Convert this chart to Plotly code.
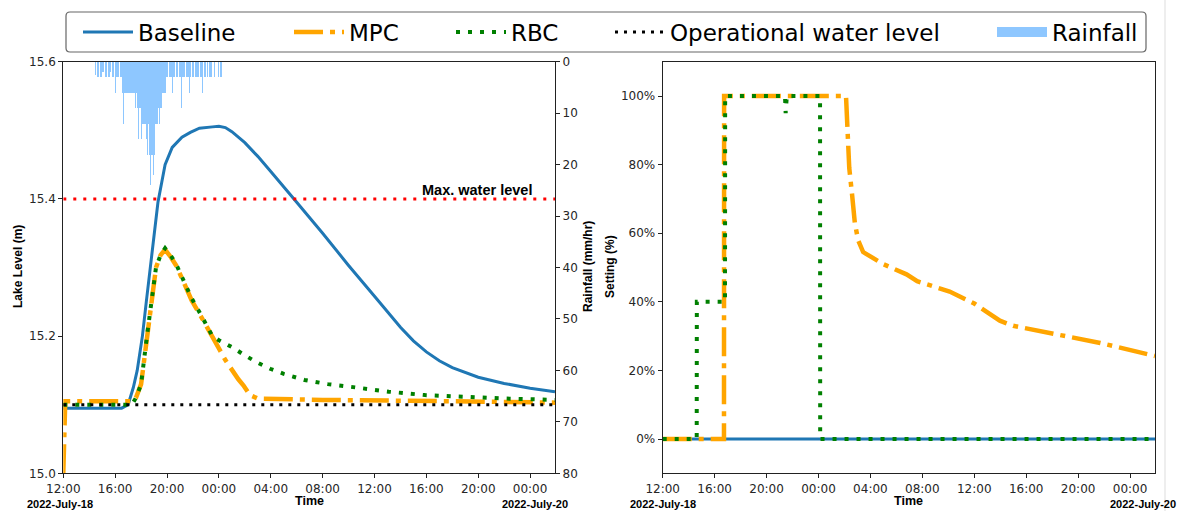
import pandas as pd
import plotly.graph_objects as go

W, H = 1181, 511
T0 = pd.Timestamp("2022-07-18 12:00")
T_END_H = 37.92

# ---------------- data (hours after 2022-07-18 12:00) ----------------
baseline_hours = [0, 4.5, 5.0, 5.4, 5.7, 6.1, 6.4, 6.7, 7.0, 7.3, 7.6, 7.85, 8.4, 9.15, 9.8, 10.2, 10.5,
                  11.5, 12.0, 12.5, 13.0, 14.0, 15.0, 16.0, 17.0, 18.0, 20.0, 22.0, 24.0, 26.0, 27.0,
                  28.0, 29.0, 30.0, 32.0, 34.0, 36.0, 37.92]
baseline_level = [15.095, 15.095, 15.10, 15.125, 15.15, 15.20, 15.25, 15.30, 15.35, 15.395, 15.425,
                  15.45, 15.475, 15.49, 15.497, 15.500, 15.503, 15.505, 15.506, 15.504, 15.498, 15.482,
                  15.462, 15.44, 15.418, 15.395, 15.35, 15.303, 15.258, 15.213, 15.193, 15.177, 15.164,
                  15.154, 15.14, 15.131, 15.124, 15.119]

mpc_hours = [0, 0.15, 5.3, 5.6, 6.0, 6.45, 6.8, 7.15, 7.5, 7.85, 8.3, 8.7, 9.3, 9.9, 10.7, 11.5, 12.0,
             12.5, 13.0, 13.5, 13.9, 14.4, 15.0, 20.0, 30.0, 37.92]
mpc_level = [15.0, 15.105, 15.105, 15.11, 15.13, 15.2, 15.255, 15.3, 15.318, 15.326, 15.315, 15.303,
             15.278, 15.252, 15.226, 15.197, 15.182, 15.165, 15.15, 15.137, 15.128, 15.114, 15.109,
             15.107, 15.105, 15.103]

rbc_hours = [0, 5.3, 5.6, 6.0, 6.45, 6.8, 7.15, 7.5, 7.85, 8.3, 8.7, 9.3, 9.9, 10.7, 11.5, 12.0, 13.0,
             14.0, 15.0, 16.0, 17.0, 18.6, 20.4, 22.2, 25.1, 27.9, 31.0, 34.0, 37.92]
rbc_level = [15.10, 15.10, 15.11, 15.13, 15.2, 15.255, 15.3, 15.318, 15.328, 15.317, 15.305, 15.28,
             15.255, 15.228, 15.2, 15.194, 15.184, 15.172, 15.161, 15.152, 15.145, 15.136, 15.13,
             15.126, 15.119, 15.114, 15.111, 15.109, 15.107]

operational_level = 15.1
max_level = 15.4

# rainfall, 5-minute values (mm/hr) starting 2022-07-18 14:30
rain_start = "2022-07-18 14:30"
rain_mm_hr = [
    2.5, 0, 3, 3, 0, 3,                          # 14:30-14:55
    3, 2, 0, 3, 3, 0, 3, 3, 2, 0, 3, 3,          # 15:00
    0, 6, 3, 3, 0, 3, 3, 6, 12, 6, 6, 6,         # 16:00
    6, 6, 6, 6, 6, 6, 6, 9, 6, 9, 15, 9,         # 17:00
    9, 15, 12, 12, 12, 15, 18, 12, 18, 24, 18, 18,  # 18:00
    22, 18, 12, 12, 9, 12, 9, 9, 6, 6, 6, 6,     # 19:00
    3, 3, 0, 3, 3, 6, 3, 3, 0, 3, 3, 0,          # 20:00
    3, 3, 9, 3, 3, 0, 3, 3, 3, 6, 3, 0,          # 21:00
    3, 3, 0, 3, 3, 3, 0, 3, 3, 6, 0, 3,          # 22:00
    3, 0, 3, 0, 3, 3, 0, 0, 3, 0, 0, 0,          # 23:00
    3, 0, 3, 3,                                  # 00:00-00:15
]

# gate setting (%) for right panel
set_baseline_hours = [0, 37.92]
set_baseline = [0, 0]
set_mpc_hours = [0, 4.72, 4.73, 14.12, 14.25, 14.37, 14.58, 14.8, 15.05, 15.44, 16.98, 18.78, 19.6,
                 22.1, 24.0, 25.2, 25.97, 27.0, 29.8, 33.7, 37.92]
set_mpc = [0, 0, 100, 100, 89, 79, 71.5, 63, 58, 54.5, 51, 48, 46, 43, 39.5, 36.5, 34.5, 33, 31, 28, 24.2]
set_rbc_hours = [0, 2.62, 2.63, 4.80, 4.81, 9.42, 9.47, 9.52, 9.56, 12.12, 12.13, 37.92]
set_rbc = [0, 0, 40, 40, 100, 100, 95, 99, 100, 100, 0, 0]

tick_hours = [0, 4, 8, 12, 16, 20, 24, 28, 32, 36]
level_ticks = [15.0, 15.2, 15.4, 15.6]
rain_ticks = [0, 10, 20, 30, 40, 50, 60, 70, 80]
setting_ticks = [0, 20, 40, 60, 80, 100]


def t(hours):
    return [T0 + pd.Timedelta(hours=h) for h in hours]


rain_times = pd.date_range(rain_start, periods=len(rain_mm_hr), freq="5min")

BLUE, ORANGE, GREEN = "#1f77b4", "#FFA500", "#008000"
RAIN = "rgba(30,144,255,0.5)"


def px(x):
    return x / W


def py(y):
    return 1 - y / H


fig = go.Figure()

# left panel
fig.add_trace(go.Scatter(x=t(baseline_hours), y=baseline_level, mode="lines", name="Baseline",
                         line=dict(color=BLUE, width=3), xaxis="x", yaxis="y", legend="legend"))
fig.add_trace(go.Scatter(x=t(mpc_hours), y=mpc_level, mode="lines", name="MPC",
                         line=dict(color=ORANGE, width=4.5, dash="29px,7px,5px,7px"),
                         xaxis="x", yaxis="y", legend="legend2"))
fig.add_trace(go.Scatter(x=t(rbc_hours), y=rbc_level, mode="lines", name="RBC",
                         line=dict(color=GREEN, width=4, dash="4px,8px"),
                         xaxis="x", yaxis="y", legend="legend3"))
fig.add_trace(go.Scatter(x=t([0, T_END_H]), y=[operational_level] * 2, mode="lines",
                         name="Operational water level",
                         line=dict(color="black", width=3, dash="3px,6px"),
                         xaxis="x", yaxis="y", legend="legend4"))
fig.add_trace(go.Scatter(x=t([0, T_END_H]), y=[max_level] * 2, mode="lines", name="Max. water level",
                         line=dict(color="#FF0000", width=3, dash="3px,7px"),
                         xaxis="x", yaxis="y", showlegend=False))
fig.add_trace(go.Bar(x=rain_times, y=rain_mm_hr, name="Rainfall", width=300000,
                     marker=dict(color=RAIN, line=dict(width=0)),
                     xaxis="x", yaxis="y2", showlegend=False, legendgroup="rain"))
# legend swatch for the rainfall bars (wide patch like the reference)
fig.add_trace(go.Scatter(x=[None], y=[None], mode="lines", name="Rainfall",
                         line=dict(color=RAIN, width=16), xaxis="x", yaxis="y2",
                         legend="legend5", legendgroup="rain"))

# right panel
fig.add_trace(go.Scatter(x=t(set_baseline_hours), y=set_baseline, mode="lines", name="Baseline",
                         line=dict(color=BLUE, width=3), xaxis="x2", yaxis="y3", showlegend=False))
fig.add_trace(go.Scatter(x=t(set_mpc_hours), y=set_mpc, mode="lines", name="MPC",
                         line=dict(color=ORANGE, width=4.5, dash="29px,7px,5px,7px"),
                         xaxis="x2", yaxis="y3", showlegend=False))
fig.add_trace(go.Scatter(x=t(set_rbc_hours), y=set_rbc, mode="lines", name="RBC",
                         line=dict(color=GREEN, width=4, dash="4px,8px"),
                         xaxis="x2", yaxis="y3", showlegend=False))

TICKFONT = dict(family="DejaVu Sans", size=12, color="#262626")
axis_common = dict(showline=True, linecolor="#222", linewidth=1.2, ticks="outside", ticklen=4,
                   tickwidth=1, tickcolor="#222", showgrid=False, zeroline=False, tickfont=TICKFONT,
                   automargin=False)
xr = [T0, T0 + pd.Timedelta(hours=T_END_H)]
xt = t(tick_hours)
xtext = [d.strftime("%H:%M") for d in xt]

ydom = [py(473.3), py(61.7)]
fig.update_layout(
    width=W, height=H, margin=dict(l=0, r=0, t=0, b=0, autoexpand=False),
    paper_bgcolor="white", plot_bgcolor="white", bargap=0,
    xaxis=dict(domain=[px(63.3), px(555)], range=xr, tickvals=xt, ticktext=xtext, mirror=True,
               anchor="y", **axis_common),
    yaxis=dict(domain=ydom, range=[15.0, 15.6], tickvals=level_ticks,
               ticktext=[f"{v:.1f}" for v in level_ticks], anchor="x", **axis_common),
    yaxis2=dict(range=[80, 0], tickvals=rain_ticks, ticktext=[str(v) for v in rain_ticks],
                overlaying="y", side="right", anchor="x", **axis_common),
    xaxis2=dict(domain=[px(662.7), px(1155)], range=xr, tickvals=xt, ticktext=xtext, mirror=True,
                anchor="y3", **axis_common),
    yaxis3=dict(domain=ydom, range=[-10, 110], tickvals=setting_ticks,
                ticktext=[f"{v}%" for v in setting_ticks], mirror=True, anchor="x2", **axis_common),
)

LEGFONT = dict(family="DejaVu Sans", size=23, color="black")
leg_y = py(32)
for key, xpix in [("legend", 78), ("legend2", 289), ("legend3", 451), ("legend4", 610), ("legend5", 992)]:
    fig.update_layout({key: dict(x=px(xpix), y=leg_y, xanchor="left", yanchor="middle",
                                 orientation="h", font=LEGFONT, bgcolor="rgba(0,0,0,0)",
                                 borderwidth=0, itemwidth=50)})

# legend frame (rounded rectangle)
x0, x1, y0, y1 = px(66), px(1146), py(52), py(12)
rx, ry = px(4), 4 / H
path = (f"M {x0 + rx},{y0} L {x1 - rx},{y0} Q {x1},{y0} {x1},{y0 + ry} L {x1},{y1 - ry} "
        f"Q {x1},{y1} {x1 - rx},{y1} L {x0 + rx},{y1} Q {x0},{y1} {x0},{y1 - ry} "
        f"L {x0},{y0 + ry} Q {x0},{y0} {x0 + rx},{y0} Z")
fig.add_shape(type="path", path=path, xref="paper", yref="paper",
              line=dict(color="#666", width=1.2), fillcolor="rgba(0,0,0,0)", layer="above")
# faint separator at the right edge of the figure
fig.add_shape(type="line", x0=px(1165), x1=px(1165), y0=0, y1=1, xref="paper", yref="paper",
              line=dict(color="#dddddd", width=1))

BOLD = "Liberation Sans"


def ann(text, x, y, size, angle=0):
    fig.add_annotation(text=f"<b>{text}</b>", x=px(x), y=py(y), xref="paper", yref="paper",
                       showarrow=False, textangle=angle, xanchor="center", yanchor="middle",
                       font=dict(family=BOLD, size=size, color="black"))


ann("Lake Level (m)", 18, 267, 12, -90)
ann("Rainfall (mm/hr)", 588, 267, 12, -90)
ann("Setting (%)", 610, 267, 12, -90)
ann("Time", 309, 501, 12.5)
ann("Time", 908, 501, 12.5)
ann("2022-July-18", 60, 504, 11)
ann("2022-July-20", 535, 504, 11)
ann("2022-July-18", 663, 504, 11)
ann("2022-July-20", 1143, 504, 11)
ann("Max. water level", 477, 190, 14.5)

fig.write_html("out.html", config={"displayModeBar": False},
               post_script="document.body.style.margin='0';")
